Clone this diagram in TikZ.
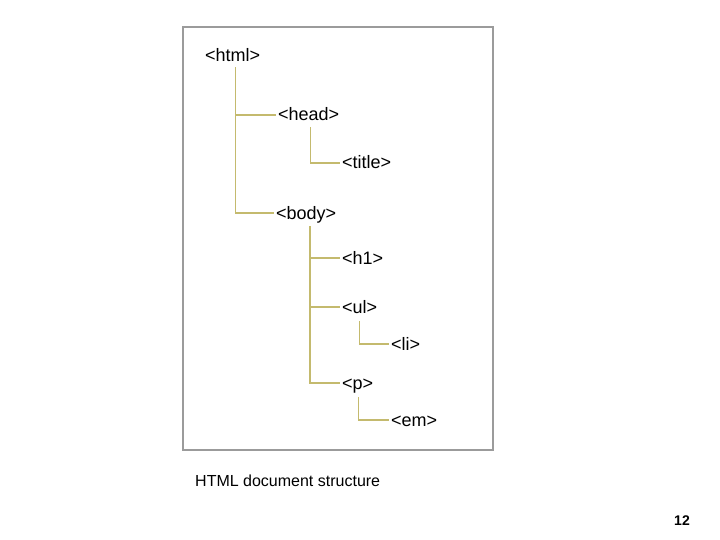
\documentclass[tikz,border=0pt]{standalone}
\usepackage{fontspec}
\setmainfont{Liberation Sans}
\usepackage{tikz}
\definecolor{treeOlive}{RGB}{196,186,110}
\definecolor{frameGray}{RGB}{155,155,155}

\begin{document}
\begin{tikzpicture}[x=1pt, y=-1pt,
		tag/.style={anchor=west, inner sep=0pt, text height=12pt, text depth=0pt, font=\fontsize{18}{20}\selectfont},
		link/.style={draw=treeOlive, line width=1.5pt, shorten >=2pt}]
		\useasboundingbox (0,0) rectangle (720,540);
		
		% Frame
		\draw[frameGray, line width=2.2pt] (183,27) rectangle (493,450);
		
		% Nodes
		\node[tag] (html) at (205,56) {<html>};
		\node[tag] (head) at (278,115) {<head>};
		\node[tag] (title) at (342,163) {<title>};
		\node[tag] (body) at (276,213) {<body>};
		\node[tag] (h1) at (342,258) {<h1>};
		\node[tag] (ul) at (342,307) {<ul>};
		\node[tag] (li) at (391,344) {<li>};
		\node[tag] (p) at (342,383) {<p>};
		\node[tag] (em) at (391,420) {<em>};
		
		% Stems
		\coordinate (htmlstem) at ([xshift=3pt, yshift=-5pt]html.south);
		\coordinate (headstem) at ([xshift=2pt, yshift=-6pt]head.south);
		\coordinate (bodystem) at ([xshift=4pt, yshift=-7pt]body.south);
		\coordinate (ulstem) at ([xshift=0pt, yshift=-8pt]ul.south);
		\coordinate (pstem) at ([xshift=1pt, yshift=-8pt]p.south);
		
		% Connections
		\draw[link] (htmlstem) |- (body.west);
		\draw[link] (htmlstem |- head.west) -- (head.west);
		\draw[link] (headstem) |- (title.west);
		\draw[link] (bodystem) |- (p.west);
		\draw[link] (bodystem |- h1.west) -- (h1.west);
		\draw[link] (bodystem |- ul.west) -- (ul.west);
		\draw[link] (ulstem) |- (li.west);
		\draw[link] (pstem) |- (em.west);
		
		% Labels
		\node[anchor=base west, inner sep=0pt, font=\fontsize{16}{18}\selectfont] (caption) at (195,486) {HTML document structure};
		\node[anchor=base east, inner sep=0pt, font=\fontsize{14}{16}\selectfont\bfseries] (pagenum) at (690,525) {12};
	\end{tikzpicture}
\end{document}
